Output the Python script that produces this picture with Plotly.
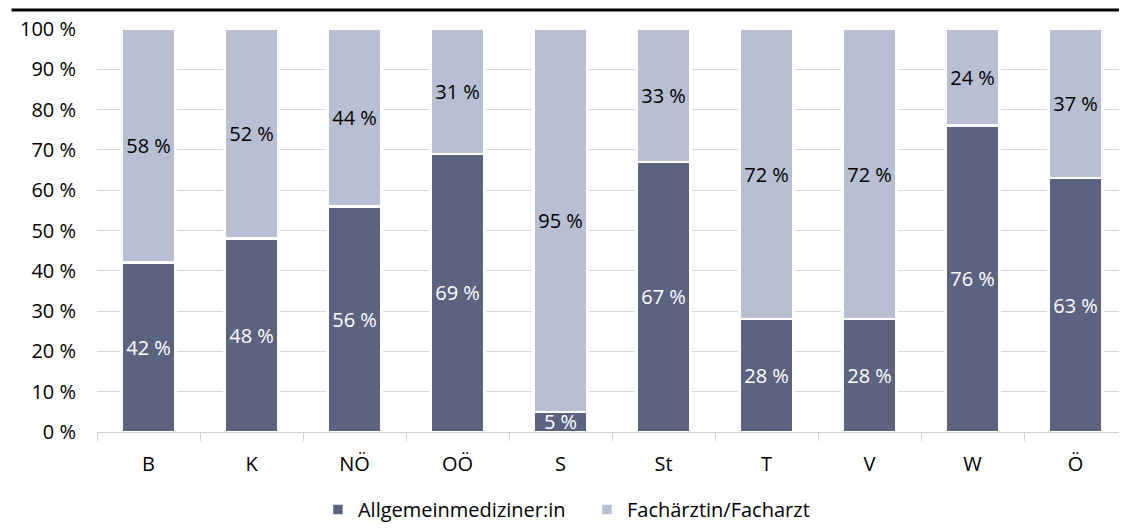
import plotly.graph_objects as go

regions = ["B", "K", "NÖ", "OÖ", "S", "St", "T", "V", "W", "Ö"]
allgemein = [42, 48, 56, 69, 5, 67, 28, 28, 76, 63]
facharzt = [58, 52, 44, 31, 95, 33, 72, 72, 24, 37]

dark = "#5b6380"
light = "#b8bfd2"
font_family = "Open Sans, Noto Sans, sans-serif"
fsize = 20

fig = go.Figure()
fig.add_trace(go.Bar(
    x=regions, y=allgemein, name="Allgemeinmediziner:in",
    marker=dict(color=dark, line=dict(color="white", width=2.5)),
    text=[f"{v} %" for v in allgemein], textposition="inside",
    insidetextanchor="middle", textfont=dict(color="white", size=fsize),
))
fig.add_trace(go.Bar(
    x=regions, y=facharzt, name="Fachärztin/Facharzt",
    marker=dict(color=light, line=dict(color="white", width=2.5)),
    text=[f"{v} %" for v in facharzt], textposition="inside",
    insidetextanchor="middle", textfont=dict(color="black", size=fsize),
))

# black rule across the top
fig.add_shape(type="line", xref="paper", yref="paper",
              x0=-0.083, x1=1, y0=1.047, y1=1.047,
              line=dict(color="black", width=3))

# the page body adds an 8px margin, so the figure is 8px smaller
fig.update_layout(
    barmode="stack",
    bargap=0.48,
    width=1119, height=521,
    margin=dict(l=89, r=0, t=21, b=97, autoexpand=False),
    paper_bgcolor="white", plot_bgcolor="white",
    font=dict(family=font_family, size=fsize, color="black"),
    uniformtext=dict(minsize=fsize, mode="show"),
    legend=dict(orientation="h", x=0.277, xanchor="left",
                xref="container", yref="container", y=0.0, yanchor="bottom",
                font=dict(size=fsize), itemwidth=30, entrywidth=224,
                traceorder="normal"),
    showlegend=True,
)
fig.update_xaxes(
    showline=True, linecolor="#d0d0d0", linewidth=1,
    ticks="outside", tickson="boundaries", ticklen=8, tickcolor="#d0d0d0",
    showgrid=False, ticklabelstandoff=14,
)
fig.update_yaxes(
    range=[0, 100], dtick=10, ticksuffix=" %",
    showgrid=True, gridcolor="#d9d9d9", gridwidth=1,
    zeroline=False, showline=False, ticks="", ticklabelstandoff=20,
)

fig.write_html("out.html")
